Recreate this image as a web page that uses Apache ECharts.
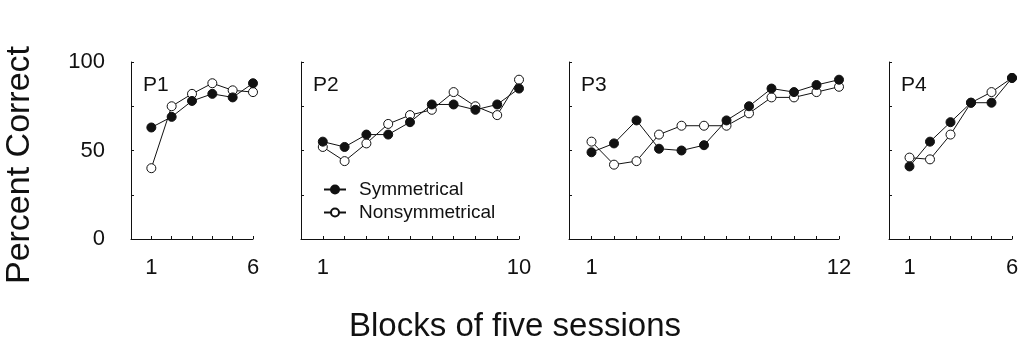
<!DOCTYPE html>
<html>
<head>
<meta charset="utf-8">
<script src="https://cdn.jsdelivr.net/npm/echarts@6/dist/echarts.min.js"></script>
<style>
  html, body { margin: 0; padding: 0; background: #fff; }
</style>
</head>
<body>
<div id="chart" style="width:1023px;height:345px;"></div>
<script>
// values (percent correct per block)
const panelNames = ["P1", "P2", "P3", "P4"]
const blockCounts = [6, 10, 12, 6]

const p1Sym = [63, 69, 78, 82, 80, 88]
const p1Non = [40, 75, 82, 88, 84, 83]
const p2Sym = [55, 52, 59, 59, 66, 76, 76, 73, 76, 85]
const p2Non = [52, 44, 54, 65, 70, 73, 83, 75, 70, 90]
const p3Sym = [49, 54, 67, 51, 50, 53, 67, 75, 85, 83, 87, 90]
const p3Non = [55, 42, 44, 59, 64, 64, 64, 71, 80, 80, 83, 86]
const p4Sym = [41, 55, 66, 77, 77, 91]
const p4Non = [46, 45, 59, 77, 83, 91]

const yLabels = [0, 50, 100]

const symData = [p1Sym, p2Sym, p3Sym, p4Sym]
const nonData = [p1Non, p2Non, p3Non, p4Non]

const font = "Liberation Sans"
const grids = [
    { left: 131, top: 62, width: 122, height: 177 },
    { left: 301, top: 62, width: 218, height: 177 },
    { left: 569, top: 62, width: 270, height: 177 },
    { left: 889, top: 62, width: 123, height: 177 }
]

let chart = echarts.init(document.getElementById("chart"))

let xAxis = []
let yAxis = []
let series = []
let graphic = []

grids.forEach((g, i) => {
    let n = blockCounts[i]
    xAxis.push({
        type: "value",
        gridIndex: i,
        min: 0,
        max: n,
        interval: 1,
        splitLine: { show: false },
        axisLine: { lineStyle: { color: "#111", width: 1 } },
        axisTick: { inside: true, length: 3, lineStyle: { color: "#111" } },
        axisLabel: {
            margin: 18,
            fontFamily: font,
            fontSize: 22,
            color: "#111",
            showMinLabel: true,
            showMaxLabel: true,
            formatter: v => (v === 1 || v === n) ? String(v) : ""
        }
    })
    yAxis.push({
        type: "value",
        gridIndex: i,
        min: 0,
        max: 100,
        interval: 25,
        splitLine: { show: false },
        axisLine: { show: true, lineStyle: { color: "#111", width: 1 } },
        axisTick: { show: true, inside: true, length: 3, lineStyle: { color: "#111" } },
        axisLabel: {
            show: i === 0,
            margin: 26,
            fontFamily: font,
            fontSize: 22,
            color: "#111",
            formatter: v => yLabels.includes(v) ? String(v) : ""
        }
    })
    series.push({
        name: "Symmetrical",
        type: "line",
        xAxisIndex: i,
        yAxisIndex: i,
        data: symData[i].map((v, k) => [k + 1, v]),
        symbol: "circle",
        symbolSize: 9,
        lineStyle: { color: "#111", width: 1 },
        itemStyle: { color: "#111", borderColor: "#111", borderWidth: 1 },
        animation: false,
        z: 3
    })
    series.push({
        name: "Nonsymmetrical",
        type: "line",
        xAxisIndex: i,
        yAxisIndex: i,
        data: nonData[i].map((v, k) => [k + 1, v]),
        symbol: "circle",
        symbolSize: 9,
        showAllSymbol: true,
        lineStyle: { color: "#111", width: 1 },
        itemStyle: { color: "#fff", borderColor: "#111", borderWidth: 1 },
        animation: false,
        z: 2
    })
    graphic.push({
        type: "text",
        left: g.left + 12,
        top: 75,
        style: { text: panelNames[i], font: "21px " + font, fill: "#111" }
    })
})

graphic.push({
    type: "text",
    x: 20,
    y: 165,
    rotation: Math.PI / 2,
    style: {
        text: "Percent Correct",
        font: "34px " + font,
        fill: "#111",
        align: "center",
        verticalAlign: "middle"
    }
})
graphic.push({
    type: "text",
    x: 515,
    y: 327,
    style: {
        text: "Blocks of five sessions",
        font: "33px " + font,
        fill: "#111",
        align: "center",
        verticalAlign: "middle"
    }
})

let option = {
    backgroundColor: "#fff",
    grid: grids,
    xAxis: xAxis,
    yAxis: yAxis,
    legend: {
        data: ["Symmetrical", "Nonsymmetrical"],
        orient: "vertical",
        left: 318,
        top: 175,
        itemWidth: 22,
        itemHeight: 10,
        itemGap: 4,
        textStyle: { fontFamily: font, fontSize: 19, lineHeight: 19, color: "#111", padding: [0, 0, 0, 8] }
    },
    series: series,
    graphic: graphic
}
chart.setOption(option)
</script>
</body>
</html>
